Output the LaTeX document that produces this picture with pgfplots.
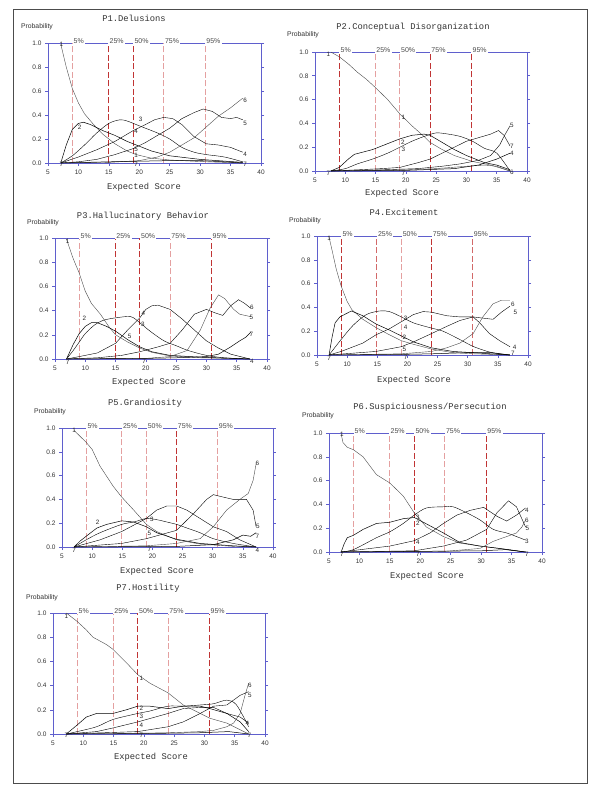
\documentclass[border=0pt]{standalone}
\usepackage{pgfplots}
\pgfplotsset{compat=1.18}
\usepackage{fontspec}
\setmainfont{Liberation Sans}
\newfontfamily\monofont{Liberation Mono}
\definecolor{axblue}{RGB}{95,95,205}
\definecolor{pdark}{RGB}{192,52,52}
\definecolor{plight}{RGB}{228,160,160}
\definecolor{pmid}{RGB}{210,105,105}
\definecolor{crv}{RGB}{75,75,75}
\newcommand\tickfont{\fontsize{6.5}{7}\selectfont}
\newcommand\ttlfont{\monofont\fontsize{8.8}{10}\selectfont}
\newcommand\probfont{\fontsize{6.8}{8}\selectfont}
\newcommand\pctfont{\fontsize{7}{8}\selectfont}
\newcommand\lblfont{\fontsize{6.3}{7}\selectfont}
\newcommand\pct[3]{%
  \addplot[#3, line width=0.8pt, dash pattern=on 6pt off 2.5pt, sharp plot, mark=none] coordinates {(#1,0) (#1,1)};
  \node[fill=white, inner xsep=1.2pt, inner ysep=1pt, anchor=south west, yshift=-1.6pt, font=\pctfont, text=black!70] at (axis cs:#1,1) {#2};}
\newcommand\lb[3]{\node[font=\lblfont, inner sep=0.5pt, text=black!85] at (axis cs:#1,#2) {#3};}
\newcommand\pcts[5]{\pct{9}{5\%}{#1}\pct{14.9}{25\%}{#2}\pct{19}{50\%}{#3}\pct{24}{75\%}{#4}\pct{30.8}{95\%}{#5}}
\pgfplotsset{
  panel/.style={
    scale only axis, clip=false, anchor=south west,
    xmin=5, xmax=40, ymin=0, ymax=1,
    xtick={5,10,15,20,25,30,35,40}, ytick={0,0.2,0.4,0.6,0.8,1.0},
    xtick pos=left, ytick pos=both,
    tick align=outside, major tick length=3pt,
    axis line style={axblue, line width=0.8pt},
    tick style={axblue, line width=0.6pt},
    ticklabel style={font=\tickfont, text=black!80},
    /pgf/number format/assume math mode=true,
    yticklabel style={/pgf/number format/fixed, /pgf/number format/fixed zerofill, /pgf/number format/precision=1},
    cycle list={{crv, line width=0.5pt, smooth, tension=0.55, mark=none}},
  }
}
\begin{document}
\begin{tikzpicture}
\useasboundingbox (0,0) rectangle (600pt,-799pt);
\fill[white] (0,0) rectangle (600pt,-799pt);
\draw[gray!60!black, line width=1pt] (13pt,-10pt) rectangle (587pt,-783pt);

% ---------- P1 ----------
\begin{axis}[panel, at={(48pt,-163pt)}, width=213pt, height=120pt]
\pcts{plight}{pdark}{pdark}{plight}{plight}
\addplot coordinates {(7.1,0.99) (8,0.8) (9,0.62) (10,0.5) (11,0.41) (12.5,0.32) (14,0.24) (16,0.16) (18,0.1) (19.5,0.07) (22,0.04) (25,0.025) (30,0.012) (37,0.0)};
\addplot coordinates {(7.1,0) (8,0.15) (9,0.28) (10,0.33) (10.8,0.34) (12,0.32) (14,0.27) (16,0.23) (18,0.18) (20,0.14) (22,0.1) (25,0.06) (30,0.03) (37,0.005)};
\addplot coordinates {(7.1,0) (9,0.06) (11,0.15) (13,0.25) (15,0.33) (16.8,0.36) (18,0.35) (19.5,0.32) (21,0.29) (23,0.25) (25,0.2) (27,0.13) (29,0.09) (31,0.07) (34,0.05) (37,0.01)};
\addplot coordinates {(7.1,0) (10,0.05) (13,0.11) (16,0.18) (19,0.27) (21,0.32) (22.5,0.36) (24,0.38) (25.5,0.37) (27,0.32) (29,0.22) (31,0.16) (33,0.15) (35,0.13) (37,0.09)};
\addplot coordinates {(7.1,0) (10,0.01) (13,0.03) (16,0.07) (19,0.12) (21,0.17) (23,0.23) (25,0.29) (27,0.37) (29,0.42) (30.5,0.45) (32,0.43) (33.5,0.38) (35,0.37) (36,0.38) (37,0.36)};
\addplot coordinates {(7.1,0) (15,0.005) (20,0.02) (23,0.05) (25,0.09) (27,0.15) (29,0.21) (31,0.3) (33,0.39) (35,0.46) (37,0.54)};
\addplot coordinates {(7.1,0) (15,0.01) (20,0.015) (25,0.02) (30,0.02) (34,0.01) (37,0.0)};
\lb{7.2}{0.99}{1}\lb{7.2}{-0.015}{7}\lb{10.2}{0.3}{2}\lb{20.2}{0.36}{3}\lb{19.5}{0.26}{4}\lb{19.5}{0.11}{5}\lb{19.5}{0.065}{1}\lb{19.5}{-0.015}{7}
\lb{37.4}{0.52}{6}\lb{37.4}{0.33}{5}\lb{37.4}{0.07}{4}\lb{37.4}{-0.015}{7}
\end{axis}

% ---------- P2 ----------
\begin{axis}[panel, at={(315pt,-171pt)}, width=212pt, height=119pt]
\pcts{pdark}{plight}{plight}{pdark}{pdark}
\addplot coordinates {(7.6,1.0) (9,0.96) (10.5,0.9) (12,0.83) (13.5,0.77) (15,0.7) (17,0.6) (19,0.48) (21,0.38) (23,0.29) (24,0.24) (26,0.18) (28,0.13) (31,0.08) (34,0.05) (37.2,0.0)};
\addplot coordinates {(7.6,0) (9,0.03) (10.5,0.1) (11.5,0.14) (13,0.16) (14.5,0.18) (16.5,0.22) (19,0.27) (21,0.3) (23,0.31) (24,0.3) (26,0.24) (28,0.18) (30,0.13) (33,0.07) (35,0.05) (37.2,0.01)};
\addplot coordinates {(7.6,0) (10,0.02) (12,0.06) (14.5,0.1) (17,0.15) (19,0.2) (21,0.25) (23,0.29) (25,0.32) (27,0.31) (29,0.29) (31,0.25) (33,0.19) (35,0.15) (37.2,0.0)};
\addplot coordinates {(7.6,0) (12,0.01) (16,0.02) (19,0.03) (22,0.07) (24,0.1) (26,0.15) (28,0.2) (30,0.25) (32,0.28) (34,0.31) (35.3,0.34) (36.2,0.3) (37.2,0.21)};
\addplot coordinates {(7.6,0) (16,0.01) (22,0.02) (26,0.04) (29,0.06) (32,0.09) (34,0.13) (35.5,0.22) (36.3,0.3) (37.2,0.38)};
\addplot coordinates {(7.6,0) (15,0.005) (20,0.01) (25,0.02) (30,0.04) (33,0.05) (35,0.04) (37.2,0.0)};
\addplot coordinates {(7.6,0) (20,0.005) (28,0.02) (32,0.05) (35,0.1) (37.2,0.15)};
\lb{7.2}{0.98}{1}\lb{7.2}{-0.02}{7}\lb{19.6}{0.45}{1}\lb{19.5}{0.24}{2}\lb{19.6}{0.18}{3}\lb{19.6}{-0.02}{7}
\lb{37.5}{0.38}{5}\lb{37.5}{0.21}{7}\lb{37.5}{0.15}{4}\lb{37.5}{-0.01}{6}
\end{axis}

% ---------- P3 ----------
\begin{axis}[panel, at={(55pt,-359pt)}, width=212pt, height=121pt]
\pcts{plight}{pdark}{pdark}{plight}{pdark}
\addplot coordinates {(6.9,0.99) (8,0.83) (9,0.71) (10,0.56) (11,0.46) (12.5,0.37) (14,0.26) (15,0.2) (17,0.14) (19,0.09) (21,0.055) (24,0.025) (29,0.01) (37.2,0.0)};
\addplot coordinates {(6.9,0) (8,0.12) (9,0.21) (10,0.27) (11,0.3) (12,0.3) (13.5,0.27) (15,0.23) (17,0.16) (19,0.1) (21,0.06) (24,0.03) (29,0.015) (37.2,0.0)};
\addplot coordinates {(6.9,0) (8,0.07) (9,0.14) (10,0.21) (11.5,0.28) (13,0.32) (15,0.34) (17.5,0.35) (19,0.3) (20.7,0.23) (23,0.15) (25,0.11) (27,0.07) (30,0.03) (33,0.01) (37.2,0.0)};
\addplot coordinates {(6.9,0) (9,0.02) (12,0.05) (15,0.13) (17,0.24) (19,0.34) (20,0.41) (21,0.44) (22,0.445) (24,0.41) (26,0.33) (28,0.24) (30,0.15) (32,0.09) (34,0.04) (37.2,0.0)};
\addplot coordinates {(6.9,0) (12,0.01) (16,0.03) (19,0.06) (22,0.1) (24,0.13) (26,0.24) (28,0.37) (30,0.41) (31.5,0.38) (32.7,0.36) (34,0.44) (35.3,0.49) (36.3,0.46) (37.3,0.42)};
\addplot coordinates {(6.9,0) (20,0.005) (24,0.02) (26.8,0.07) (29,0.24) (30.6,0.42) (32,0.53) (33,0.5) (34.5,0.41) (35.5,0.37) (37.3,0.35)};
\addplot coordinates {(6.9,0) (20,0.005) (25,0.01) (30,0.02) (32,0.04) (34,0.1) (35.5,0.15) (36.5,0.18) (37.3,0.22)};
\lb{7.1}{0.97}{1}\lb{7.1}{-0.025}{7}\lb{9.85}{0.34}{2}\lb{19.6}{0.38}{4}\lb{19.5}{0.29}{3}\lb{17.3}{0.185}{5}\lb{19.7}{-0.02}{7}
\lb{37.5}{0.43}{6}\lb{37.4}{0.34}{5}\lb{37.4}{0.2}{7}\lb{37.5}{-0.02}{4}
\end{axis}

% ---------- P4 ----------
\begin{axis}[panel, at={(317pt,-355pt)}, width=211pt, height=119pt]
\pcts{pdark}{pmid}{plight}{pdark}{pmid}
\addplot coordinates {(7,0.99) (7.5,0.88) (8.2,0.72) (9,0.58) (10,0.45) (10.8,0.38) (12.6,0.3) (14.8,0.23) (17,0.17) (19,0.12) (21,0.09) (24,0.05) (27.5,0.02) (31,0.01) (37,0.0)};
\addplot coordinates {(7,0) (7.5,0.15) (8,0.27) (8.8,0.32) (10.7,0.37) (12.6,0.33) (14.8,0.26) (17,0.21) (19,0.16) (21,0.11) (24,0.06) (27.5,0.03) (37,0.0)};
\addplot coordinates {(7,0) (9,0.13) (11,0.25) (13.2,0.34) (15.4,0.37) (17,0.365) (19,0.32) (21,0.27) (23.7,0.23) (25.9,0.2) (28.7,0.13) (31,0.07) (34,0.02) (37,0.0)};
\addplot coordinates {(7,0) (9,0.03) (12.6,0.1) (14.8,0.17) (17,0.22) (19,0.28) (21,0.34) (22.6,0.365) (24,0.36) (26.5,0.33) (28.7,0.32) (30.9,0.32) (32,0.27) (33.6,0.18) (35.3,0.12) (37,0.07)};
\addplot coordinates {(7,0) (14.8,0.03) (19,0.07) (21,0.11) (24,0.18) (26.5,0.24) (28.7,0.29) (30.9,0.32) (32.5,0.31) (34.2,0.3) (35.6,0.36) (37,0.41)};
\addplot coordinates {(7,0) (19,0.01) (24,0.03) (26.5,0.06) (28.7,0.1) (30.9,0.18) (32.5,0.32) (34.2,0.43) (35.6,0.46) (37,0.46)};
\addplot coordinates {(7,0) (19,0.005) (24,0.01) (30,0.02) (34,0.02) (37,0.0)};
\lb{7.0}{0.98}{1}\lb{7}{-0.03}{7}\lb{19.7}{0.31}{3}\lb{19.7}{0.23}{4}\lb{19.5}{0.15}{2}\lb{19.5}{0.05}{5}\lb{19.7}{-0.02}{7}
\lb{37.5}{0.43}{6}\lb{37.9}{0.36}{5}\lb{37.8}{0.065}{4}\lb{37.5}{0.01}{7}
\end{axis}

% ---------- P5 ----------
\begin{axis}[panel, at={(62pt,-547pt)}, width=211pt, height=119pt]
\pcts{plight}{plight}{plight}{pdark}{plight}
\addplot coordinates {(7,0.98) (9,0.88) (10,0.82) (11.3,0.68) (13.5,0.51) (14.9,0.42) (16.9,0.31) (19,0.19) (20.7,0.13) (24,0.06) (27.9,0.025) (33.4,0.005) (37.2,0.0)};
\addplot coordinates {(7,0) (8,0.05) (9,0.09) (10.8,0.16) (12.4,0.19) (14.9,0.22) (16.9,0.21) (19,0.17) (20.7,0.12) (24,0.065) (27.9,0.03) (33.4,0.01) (37.2,0.0)};
\addplot coordinates {(7,0) (9,0.06) (11.3,0.12) (14.9,0.19) (16.9,0.21) (19,0.24) (20.7,0.23) (22.4,0.21) (24,0.19) (25.7,0.16) (27.9,0.12) (30.1,0.07) (33.4,0.03) (37.2,0.0)};
\addplot coordinates {(7,0) (11.3,0.06) (14.9,0.13) (19,0.24) (20.7,0.31) (22.4,0.345) (24,0.345) (25.7,0.31) (27.9,0.24) (30.1,0.17) (32.3,0.13) (34.5,0.06) (37.2,0.0)};
\addplot coordinates {(7,0) (14.9,0.03) (19,0.07) (24,0.14) (26.8,0.28) (29,0.4) (30.1,0.44) (31.7,0.42) (33.4,0.4) (35.6,0.4) (36.7,0.31) (37.2,0.17)};
\addplot coordinates {(7,0) (19,0.01) (24,0.03) (27.9,0.07) (30.1,0.17) (32.3,0.31) (34.5,0.4) (35.9,0.45) (36.7,0.56) (37.2,0.7)};
\addplot coordinates {(7,0) (24,0.005) (30.1,0.02) (33.4,0.06) (35,0.1) (36.3,0.09) (37.2,0.12)};
\lb{7.0}{0.98}{1}\lb{7}{-0.03}{7}\lb{10.9}{0.21}{2}\lb{19.9}{0.23}{3}\lb{19.5}{0.115}{5}\lb{19.5}{-0.02}{7}
\lb{37.4}{0.7}{6}\lb{37.5}{0.17}{5}\lb{37.4}{0.09}{7}\lb{37.4}{-0.03}{4}
\end{axis}

% ---------- P6 ----------
\begin{axis}[panel, at={(329pt,-552pt)}, width=213pt, height=119pt]
\pcts{plight}{plight}{pdark}{plight}{pdark}
\addplot coordinates {(7,0.99) (7.3,0.92) (8,0.88) (9,0.86) (10.6,0.8) (12.8,0.65) (15,0.58) (17.2,0.47) (19,0.33) (21,0.21) (23.8,0.13) (26.5,0.075) (29.8,0.05) (33,0.03) (37.3,0.0)};
\addplot coordinates {(7,0) (7.5,0.07) (8,0.12) (9,0.14) (10.6,0.19) (12.8,0.24) (15,0.25) (17.2,0.28) (19,0.29) (20.5,0.25) (23.8,0.16) (26.5,0.08) (29.8,0.05) (33,0.03) (37.3,0.0)};
\addplot coordinates {(7,0) (9,0.02) (12.8,0.12) (15,0.17) (17.2,0.24) (19,0.31) (21,0.37) (23.8,0.38) (25.4,0.38) (27.6,0.33) (29.8,0.27) (32,0.19) (34.2,0.16) (35.8,0.13) (37.3,0.1)};
\addplot coordinates {(7,0) (15,0.05) (19,0.095) (21.6,0.16) (23.8,0.24) (26,0.31) (28.2,0.35) (30.4,0.375) (32.6,0.3) (34.2,0.26) (35.8,0.31) (37.3,0.37)};
\addplot coordinates {(7,0) (19,0.01) (23.8,0.05) (27.6,0.1) (30.9,0.19) (32.6,0.33) (34.5,0.43) (35.8,0.38) (37.3,0.21)};
\addplot coordinates {(7,0) (24,0.005) (29.8,0.03) (32,0.09) (34.2,0.13) (35.8,0.16) (36.7,0.21) (37.3,0.27)};
\addplot coordinates {(7,0) (19,0.005) (30,0.01) (34,0.02) (37.3,0.0)};
\lb{7.1}{0.985}{1}\lb{7.1}{-0.02}{7}\lb{19.6}{0.29}{3}\lb{19.6}{0.24}{2}\lb{19.6}{0.08}{4}\lb{19.6}{-0.02}{7}
\lb{37.5}{0.35}{4}\lb{37.5}{0.265}{6}\lb{37.6}{0.195}{5}\lb{37.5}{0.09}{3}\lb{37.5}{-0.02}{7}
\end{axis}

% ---------- P7 ----------
\begin{axis}[panel, at={(53pt,-734pt)}, width=212pt, height=121pt]
\pcts{plight}{plight}{pdark}{plight}{pdark}
\addplot coordinates {(7.2,1.0) (9,0.93) (10.5,0.86) (11.6,0.8) (13.8,0.74) (14.9,0.7) (17.1,0.59) (19,0.49) (21,0.42) (24,0.34) (26.5,0.24) (29.3,0.17) (30.9,0.13) (33.7,0.09) (37.3,0.0)};
\addplot coordinates {(7.2,0) (9,0.075) (10.5,0.14) (12.2,0.17) (13.8,0.17) (14.9,0.17) (17.1,0.2) (19,0.23) (21,0.23) (24,0.21) (26.5,0.23) (29.3,0.23) (30.9,0.21) (33.7,0.17) (35.9,0.1) (37.3,0.02)};
\addplot coordinates {(7.2,0) (9,0.02) (12.2,0.06) (14.9,0.12) (19,0.17) (21,0.19) (24,0.23) (26.5,0.23) (29.3,0.24) (31.5,0.25) (33.7,0.28) (35.3,0.24) (37.3,0.06)};
\addplot coordinates {(7.2,0) (12.2,0.02) (14.9,0.05) (19,0.1) (24,0.17) (26.5,0.21) (29.3,0.22) (31.5,0.22) (33.7,0.17) (35.9,0.14) (37.3,0.09)};
\addplot coordinates {(7.2,0) (19,0.02) (24,0.06) (26.5,0.1) (29.3,0.17) (31.5,0.23) (33.7,0.24) (34.8,0.28) (35.9,0.32) (37.3,0.35)};
\addplot coordinates {(7.2,0) (24,0.01) (29.3,0.02) (31.5,0.03) (33.7,0.06) (34.8,0.09) (35.9,0.17) (36.7,0.32) (37.3,0.42)};
\addplot coordinates {(7.2,0) (19,0.003) (29,0.01) (34,0.02) (37.3,0.0)};
\lb{7.2}{0.97}{1}\lb{7.2}{-0.015}{7}\lb{19.6}{0.46}{1}\lb{19.6}{0.21}{2}\lb{19.6}{0.145}{3}\lb{19.6}{0.075}{4}\lb{19.6}{-0.015}{7}
\lb{37.5}{0.4}{6}\lb{37.5}{0.32}{5}\lb{37.1}{0.09}{4}\lb{37.4}{-0.015}{7}
\end{axis}

% ---------- titles and labels ----------
\foreach \x/\y/\t in {134/18/P1.Delusions, 413/27/P2.Conceptual Disorganization, 143/216/P3.Hallucinatory Behavior, 404/212/P4.Excitement, 145/403/P5.Grandiosity, 430/407/P6.Suspiciousness\slash Persecution, 148/588/P7.Hostility}
  \node[font=\ttlfont, text=black!80] at (\x pt,-\y pt) {\t};
\foreach \x/\y in {144/187, 402/193, 149/382, 414/380, 157/571, 427/576, 151/757}
  \node[font=\ttlfont, text=black!80] at (\x pt,-\y pt) {Expected Score};
\foreach \x/\y in {37/27, 303/35, 43/223, 305/221, 50/412, 318/416, 42/598}
  \node[font=\probfont, text=black!80] at (\x pt,-\y pt) {Probability};
\end{tikzpicture}
\end{document}
